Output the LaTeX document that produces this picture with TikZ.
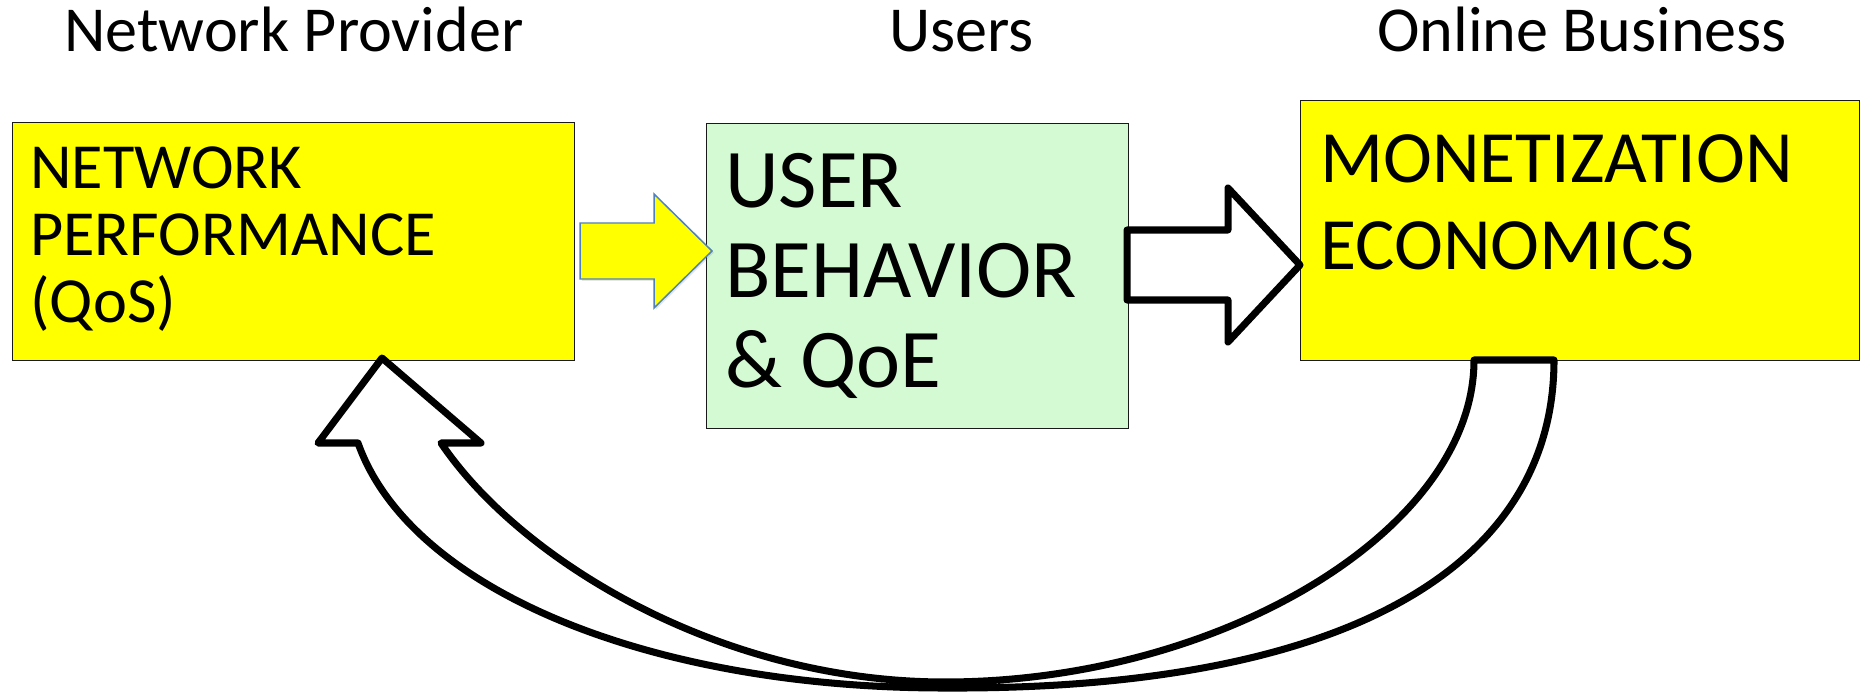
\documentclass[tikz,border=0pt]{standalone}
\usepackage{fontspec}
\setmainfont{Carlito}
\usetikzlibrary{shadows}
\definecolor{boxyellow}{RGB}{255,255,0}
\definecolor{boxgreen}{RGB}{212,250,212}
\definecolor{arrowblue}{RGB}{79,129,189}
\tikzset{
  box/.style={draw=black!90, line width=.8pt, anchor=north west, inner sep=0pt},
  boxtext/.style={anchor=base west, inner sep=0pt, align=left, text width=#1},
  heading/.style={anchor=base west, inner sep=0pt, font=\fontsize{36.5}{40}\selectfont},
  hollowarrow/.style={draw=black, fill=white, line width=4pt, line join=round,
    drop shadow={shadow xshift=1pt, shadow yshift=-1pt, opacity=.2}},
}
\begin{document}
\begin{tikzpicture}[x=.02cm, y=-.02cm]
    \useasboundingbox (0,0) rectangle (1862,692);
    % boxes
    \node[box, fill=boxyellow, minimum width=11.24cm, minimum height=4.76cm] (perf) at (12,122) {};
    \node[box, fill=boxgreen, minimum width=8.44cm, minimum height=6.1cm] (qoe) at (706,123) {};
    \node[box, fill=boxyellow, minimum width=11.18cm, minimum height=5.2cm] (money) at (1300,100) {};
    % headings
    \node[heading] (provider) at (64,52) {Network Provider};
    \node[heading] (users) at (889,52) {Users};
    \node[heading] (business) at (1377,52) {Online Business};
    % box texts
    \node[boxtext=10cm, font=\fontsize{36.6}{38}\selectfont] (perftext) at (30,189) {NETWORK\\PERFORMANCE\\(QoS)};
    \node[boxtext=8cm, font=\fontsize{47.5}{51}\selectfont] (qoetext) at (725,208) {USER\\BEHAVIOR\\\&\hspace{-.12em} QoE};
    \node[boxtext=10.5cm, font=\fontsize{42}{49.3}\selectfont] (moneytext) at (1320,183) {MONETIZATION\\ECONOMICS};
    % arrows
    \draw[arrowblue, fill=boxyellow, line width=.85pt, line join=miter,
      drop shadow={shadow xshift=1pt, shadow yshift=-1pt, opacity=.2}]
      (580,223) -- (654,223) -- (654,194) -- (712,251) -- (654,308) -- (654,279) -- (580,279) -- cycle;
    \draw[hollowarrow]
      (1127,230) -- (1228,230) -- (1228,188) -- (1300,265) -- (1228,342) -- (1228,300) -- (1127,300) -- cycle;
    \draw[hollowarrow]
      (382,358) -- (481,443) -- (441,443)
      .. controls (520,560) and (720,682) .. (945,682)
      .. controls (1220,682) and (1474,530) .. (1474,360)
      -- (1554,360)
      .. controls (1554,565) and (1350,690) .. (945,688)
      .. controls (650,688) and (410,590) .. (358,443)
      -- (318,443) -- cycle;
\end{tikzpicture}
\end{document}
